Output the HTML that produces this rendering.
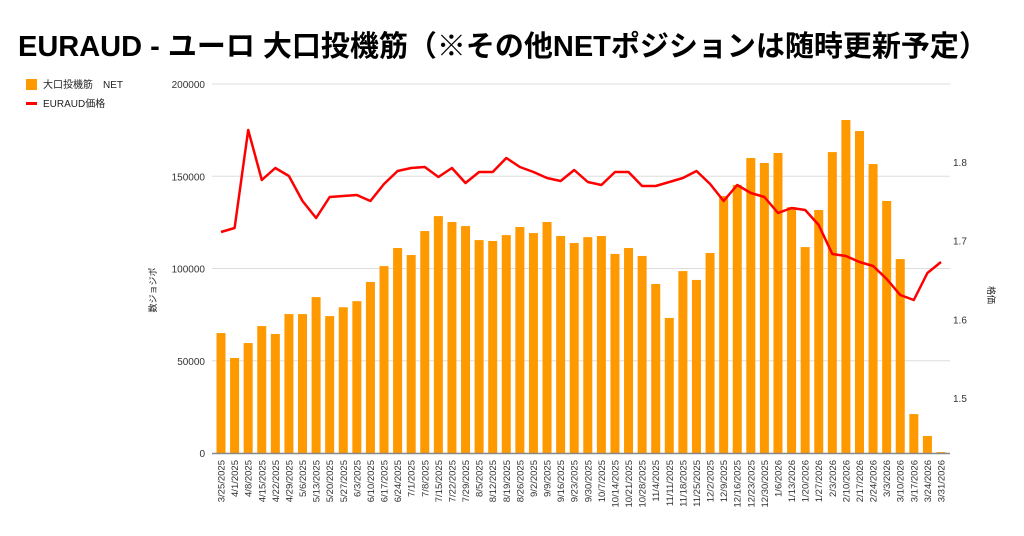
<!DOCTYPE html>
<html><head><meta charset="utf-8"><style>
html,body{margin:0;padding:0;background:#fff;width:1024px;height:536px;overflow:hidden}
svg text{font-family:"Liberation Sans","Noto Sans CJK JP",sans-serif}
</style></head><body>
<svg id="s" width="1024" height="536" xmlns="http://www.w3.org/2000/svg">
<text x="18" y="56" font-size="29" font-weight="bold" fill="#000">EURAUD - ユーロ 大口投機筋（※その他NETポジションは随時更新予定）</text>
<rect x="26" y="79" width="11" height="11" fill="#ff9900"/>
<text x="43" y="88" font-size="10" fill="#222">大口投機筋　NET</text>
<rect x="26" y="102" width="11" height="3" fill="#ff0000"/>
<text x="43" y="107" font-size="10" fill="#222">EURAUD価格</text>
<text transform="translate(156,290) rotate(-90)" font-size="9" fill="#222" text-anchor="middle">数ジョジポ</text>
<text transform="translate(988,295) rotate(90)" font-size="9" fill="#222" text-anchor="middle">格価</text>
<g id="g"></g>
</svg>
<script>
var g=document.getElementById('g'),h='';
var L=212,R=950;
[0,50000,100000,150000,200000].forEach(function(v){var y=453-v/50000*92.25;
if(v>0)h+='<line x1="'+L+'" x2="'+R+'" y1="'+y+'" y2="'+y+'" stroke="#ddd"/>';
h+='<text x="205" y="'+(y+4)+'" font-size="10" fill="#333" text-anchor="end">'+v+'</text>';});
[1.5,1.6,1.7,1.8].forEach(function(v){var y=162+(1.8-v)*787;h+='<text x="953" y="'+(y+4)+'" font-size="10" fill="#333">'+v+'</text>';});
var b=[65000,51500,59600,68800,64500,75300,75300,84500,74200,79000,82300,92700,101300,111100,107300,120300,128400,125200,123000,115400,114900,118100,122500,119200,125200,117600,113800,117000,117600,107900,111100,106800,91600,73200,98600,93800,108400,139300,145300,159900,157200,162600,133300,111600,131700,163100,180500,174500,156600,136600,105100,21100,9200,500];
var p=[232,228,130,180,168,176,201,218,197,196,195,201,184,171,168,167,177,168,183,172,172,158,167,172,178,181,170,182,185,172,172,186,186,182,178,171,184,201,185,193,197,213,208,210,225,254,256,262,266,279,295,300,273,262];
var n=b.length,sp=(941-221)/53,pts=[];
var d=new Date(2025,2,25);
for(var i=0;i<n;i++){var cx=221+i*sp,bh=b[i]/50000*92.25;
h+='<rect x="'+(cx-4.5)+'" y="'+(453-bh)+'" width="9" height="'+bh+'" fill="#ff9900"/>';
pts.push(cx.toFixed(1)+','+p[i]);
var lab=(d.getMonth()+1)+'/'+d.getDate()+'/'+d.getFullYear();d.setDate(d.getDate()+7);
h+='<text transform="translate('+(cx+3.5)+',460) rotate(-90)" font-size="9.5" fill="#333" text-anchor="end">'+lab+'</text>';}
h+='<line x1="'+L+'" x2="'+R+'" y1="453.5" y2="453.5" stroke="#888" stroke-width="1.5"/>';
h+='<polyline points="'+pts.join(' ')+'" fill="none" stroke="#ff0000" stroke-width="2.5" stroke-linejoin="round"/>';
g.innerHTML=h;
</script>
</body></html>
